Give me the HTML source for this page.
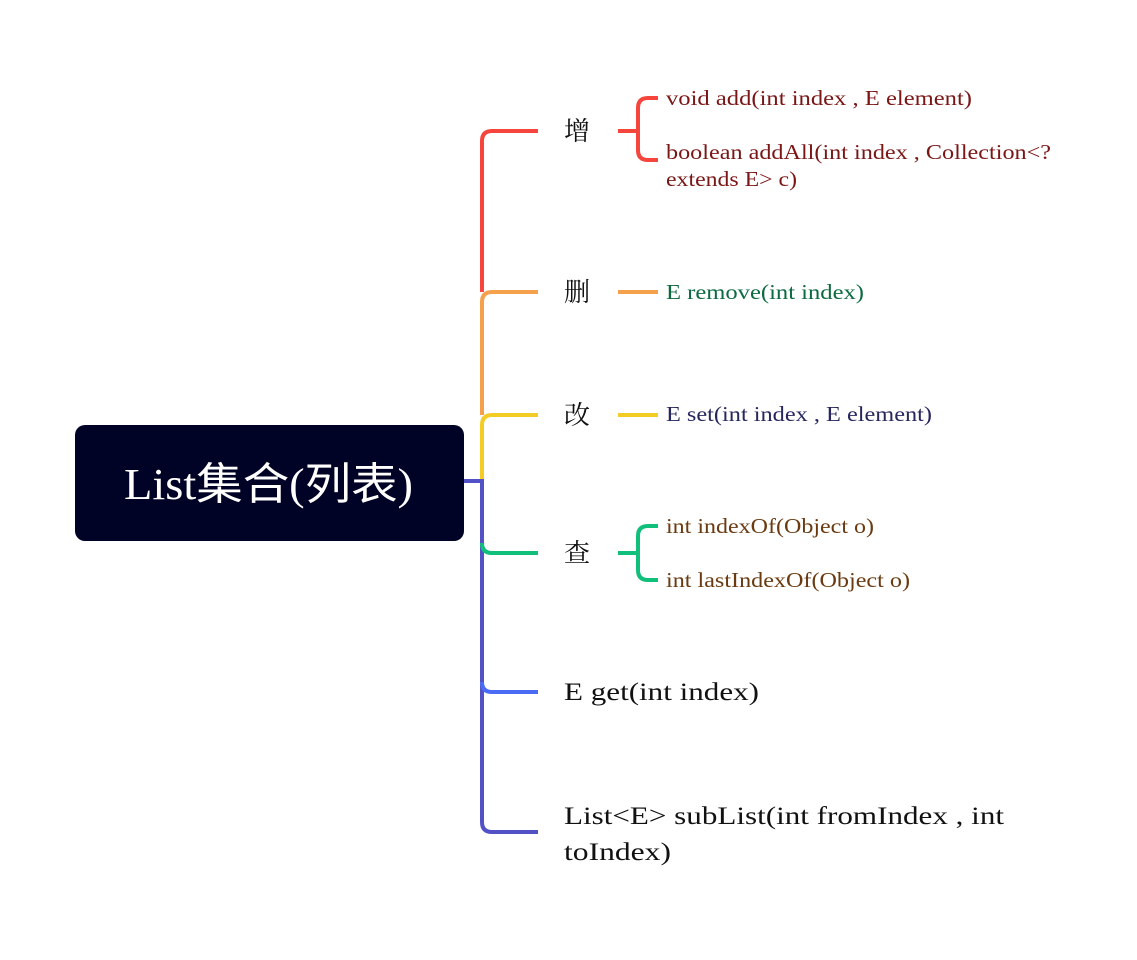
<!DOCTYPE html>
<html><head><meta charset="utf-8"><style>
html,body{margin:0;padding:0;background:#fff;width:1137px;height:960px;overflow:hidden}
svg{display:block}
text{font-family:"Liberation Serif","Noto Serif CJK SC",serif}
.cj{font-family:"Liberation Serif","Noto Sans CJK SC",sans-serif}
</style></head><body>
<svg width="1137" height="960" viewBox="0 0 1137 960" xmlns="http://www.w3.org/2000/svg">
<g fill="none" stroke-width="4" stroke-linecap="butt">
<path d="M538 131 H492 Q482 131 482 141 V292" stroke="#f5453c"/>
<path d="M538 292 H492 Q482 292 482 302 V415" stroke="#f5a04c"/>
<path d="M538 415 H492 Q482 415 482 425 V481" stroke="#f3cd25"/>
<path d="M464 481 H482 V822 Q482 832 492 832 H538" stroke="#5252c6"/>
<path d="M482 543 Q482 553 492 553 H538" stroke="#10bf7a"/>
<path d="M482 682 Q482 692 492 692 H538" stroke="#4a6cf5"/>
<path d="M618 131 H638 M658 98 H648 Q638 98 638 108 V150 Q638 160 648 160 H658" stroke="#f5453c"/>
<path d="M618 292 H658" stroke="#f5a04c"/>
<path d="M618 415 H658" stroke="#f3cd25"/>
<path d="M618 553 H638 M658 526 H648 Q638 526 638 536 V570 Q638 580 648 580 H658" stroke="#10bf7a"/>
</g>
<rect x="75" y="425" width="389" height="116" rx="10" fill="#000325"/>
<text x="124" y="499" fill="#fff" font-size="44" class="cj" textLength="289" lengthAdjust="spacingAndGlyphs">List集合(列表)</text>
<g font-size="26" fill="#111" class="cj">
<text x="564" y="140">增</text>
<text x="564" y="301">删</text>
<text x="564" y="424">改</text>
<text x="564" y="562">查</text>
</g>
<g font-size="25" fill="#111">
<text x="564" y="700" textLength="195" lengthAdjust="spacingAndGlyphs">E get(int index)</text>
<text x="564" y="824" textLength="440" lengthAdjust="spacingAndGlyphs">List&lt;E&gt; subList(int fromIndex , int</text>
<text x="564" y="860" textLength="107" lengthAdjust="spacingAndGlyphs">toIndex)</text>
</g>
<g font-size="21" lengthAdjust="spacingAndGlyphs">
<text x="666" y="105" fill="#7a1616" textLength="306" lengthAdjust="spacingAndGlyphs">void add(int index , E element)</text>
<text x="666" y="159" fill="#7a1616" textLength="385" lengthAdjust="spacingAndGlyphs">boolean addAll(int index , Collection&lt;?</text>
<text x="666" y="186" fill="#7a1616" textLength="131" lengthAdjust="spacingAndGlyphs">extends E&gt; c)</text>
<text x="666" y="299" fill="#0d6a40" textLength="198" lengthAdjust="spacingAndGlyphs">E remove(int index)</text>
<text x="666" y="421" fill="#27275e" textLength="266" lengthAdjust="spacingAndGlyphs">E set(int index , E element)</text>
<text x="666" y="533" fill="#6a3a10" textLength="208" lengthAdjust="spacingAndGlyphs">int indexOf(Object o)</text>
<text x="666" y="587" fill="#6a3a10" textLength="244" lengthAdjust="spacingAndGlyphs">int lastIndexOf(Object o)</text>
</g>
</svg>
</body></html>
